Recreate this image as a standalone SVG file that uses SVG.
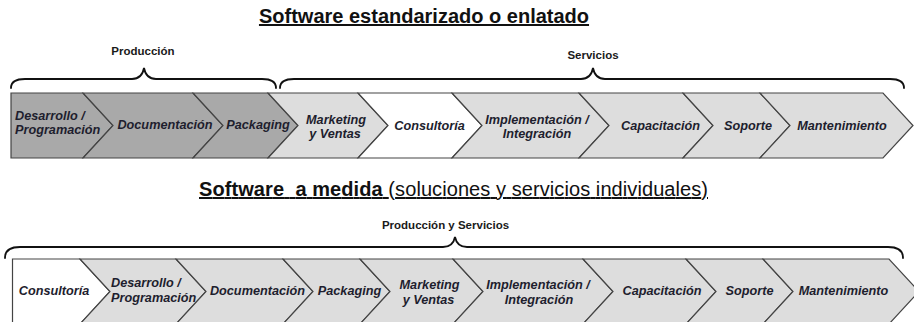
<svg xmlns="http://www.w3.org/2000/svg" width="914" height="322" viewBox="0 0 914 322">
<style>
.dark{fill:#a9a9a9;stroke:#444;stroke-width:1.2}
.light{fill:#dddddd;stroke:#444;stroke-width:1.2}
.white{fill:#ffffff;stroke:#444;stroke-width:1.2}
.t{font-family:"Liberation Sans",Arial,sans-serif;font-weight:bold;font-style:italic;font-size:12.7px;fill:#1e1e2e;text-anchor:middle}
.tl{text-anchor:start}
.lab{font-family:"Liberation Sans",Arial,sans-serif;font-weight:bold;font-size:11.5px;fill:#1a1a1a;text-anchor:middle}
.title{font-family:"Liberation Sans",Arial,sans-serif;font-size:20px;fill:#111;text-decoration:underline;white-space:pre}
.brace{fill:none;stroke:#111;stroke-width:1.8;stroke-linecap:round}
</style>
<rect width="914" height="322" fill="#ffffff"/>
<text class="title" x="424" y="23" text-anchor="middle" font-weight="bold">Software estandarizado o enlatado</text>
<text class="title" x="199" y="196" xml:space="preserve" textLength="509" lengthAdjust="spacing"><tspan font-weight="bold">Software  a medida</tspan> (soluciones y servicios individuales)</text>
<g id="labels">
<text class="lab" x="143" y="55">Producción</text>
<text class="lab" x="593" y="59">Servicios</text>
<text class="lab" x="445.5" y="229">Producción y Servicios</text>
</g>
<g id="connectors">
<path class="brace" d="M11,88 Q11,79 25,79 L132,79 Q142,79 144,68 Q146,79 156,79 L262,79 Q276,79 276,88"/>
<path class="brace" d="M280,88 Q280,79 294,79 L581,79 Q591,79 593,68 Q595,79 605,79 L890,79 Q904,79 904,88"/>
<path class="brace" d="M5,258 Q5,247 20,247 L443,247 Q453,247 455,237 Q457,247 467,247 L888,247 Q903,247 903,258"/>
</g>
<g id="row1">
<g id="r1-desarrollo"><polygon class="dark" points="11,93 83,93 113,125.5 83,158 11,158"/><text class="t tl" x="15" y="120">Desarrollo /</text><text class="t tl" x="15" y="134">Programación</text></g>
<g id="r1-documentacion"><polygon class="dark" points="83,93 193,93 223,125.5 193,158 83,158 113,125.5"/><text class="t" x="165" y="129">Documentación</text></g>
<g id="r1-packaging"><polygon class="dark" points="193,93 268,93 298,125.5 268,158 193,158 223,125.5"/><text class="t" x="258" y="129">Packaging</text></g>
<g id="r1-marketing"><polygon class="light" points="268,93 358,93 388,125.5 358,158 268,158 298,125.5"/><text class="t" x="336" y="123.5">Marketing</text><text class="t" x="335" y="138">y Ventas</text></g>
<g id="r1-consultoria"><polygon class="white" points="358,93 452,93 482,125.5 452,158 358,158 388,125.5"/><text class="t" x="429.5" y="130">Consultoría</text></g>
<g id="r1-implementacion"><polygon class="light" points="452,93 579,93 609,125.5 579,158 452,158 482,125.5"/><text class="t" x="537" y="123.5">Implementación /</text><text class="t" x="537" y="138">Integración</text></g>
<g id="r1-capacitacion"><polygon class="light" points="579,93 683,93 713,125.5 683,158 579,158 609,125.5"/><text class="t" x="660.5" y="130">Capacitación</text></g>
<g id="r1-soporte"><polygon class="light" points="683,93 760,93 790,125.5 760,158 683,158 713,125.5"/><text class="t" x="748" y="130">Soporte</text></g>
<g id="r1-mantenimiento"><polygon class="light" points="760,93 883,93 913,125.5 883,158 760,158 790,125.5"/><text class="t" x="842" y="130">Mantenimiento</text></g>
</g>
<g id="row2">
<g id="r2-consultoria"><polygon class="white" points="12.5,259 80,259 110,291.5 80,324 12.5,324"/><text class="t" x="54" y="295">Consultoría</text></g>
<g id="r2-desarrollo"><polygon class="light" points="80,259 176,259 206,291.5 176,324 80,324 110,291.5"/><text class="t tl" x="111" y="287">Desarrollo /</text><text class="t tl" x="111" y="302">Programación</text></g>
<g id="r2-documentacion"><polygon class="light" points="176,259 283,259 313,291.5 283,324 176,324 206,291.5"/><text class="t" x="257.5" y="295">Documentación</text></g>
<g id="r2-packaging"><polygon class="light" points="283,259 360,259 390,291.5 360,324 283,324 313,291.5"/><text class="t" x="349.5" y="295">Packaging</text></g>
<g id="r2-marketing"><polygon class="light" points="360,259 453,259 483,291.5 453,324 360,324 390,291.5"/><text class="t" x="429.5" y="288.5">Marketing</text><text class="t" x="428.5" y="304">y Ventas</text></g>
<g id="r2-implementacion"><polygon class="light" points="453,259 583,259 613,291.5 583,324 453,324 483,291.5"/><text class="t" x="538" y="289">Implementación /</text><text class="t" x="539" y="304">Integración</text></g>
<g id="r2-capacitacion"><polygon class="light" points="583,259 686,259 716,291.5 686,324 583,324 613,291.5"/><text class="t" x="662" y="295">Capacitación</text></g>
<g id="r2-soporte"><polygon class="light" points="686,259 763,259 793,291.5 763,324 686,324 716,291.5"/><text class="t" x="749.5" y="295">Soporte</text></g>
<g id="r2-mantenimiento"><polygon class="light" points="763,259 889,259 919,291.5 889,324 763,324 793,291.5"/><text class="t" x="843.5" y="295">Mantenimiento</text></g>
</g>
</svg>
